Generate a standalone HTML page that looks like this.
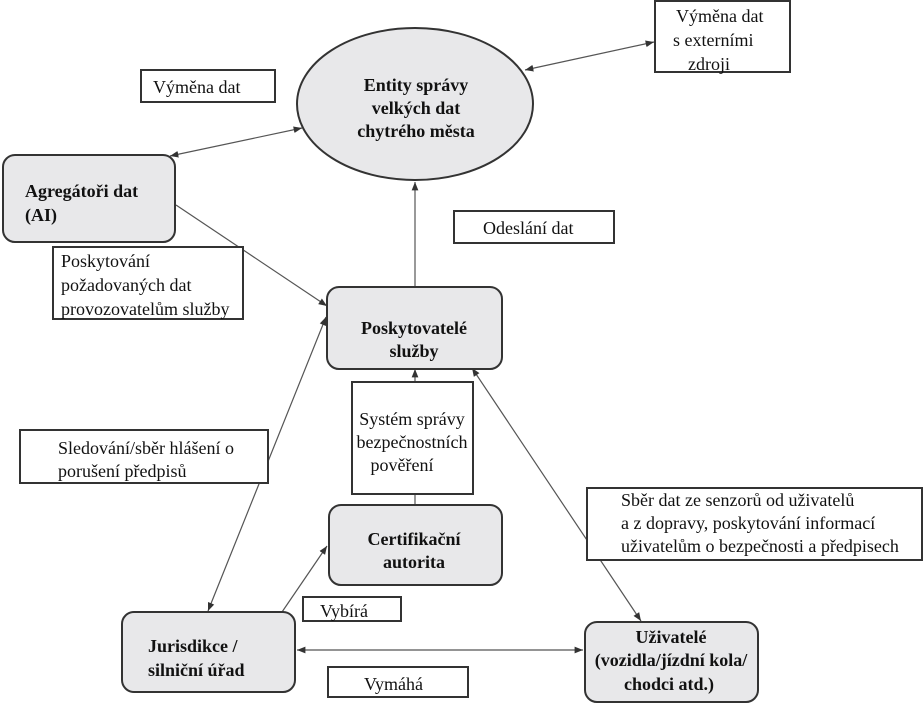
<!DOCTYPE html>
<html><head><meta charset="utf-8"><style>
html,body{margin:0;padding:0;background:#fff;}
svg{display:block;}
text{font-family:"Liberation Serif",serif;font-size:18px;fill:#111;}
.b{font-weight:bold;font-size:18px;}
</style></head><body>
<svg width="923" height="705" viewBox="0 0 923 705">
<defs>
<marker id="a" viewBox="0 0 10 10" refX="10" refY="5" markerWidth="7" markerHeight="7" orient="auto-start-reverse"><path d="M0,1 L10,5 L0,9 z" fill="#333"/></marker>
</defs>
<g stroke="#555" stroke-width="1.2" fill="none">
<line x1="525" y1="70" x2="654" y2="42" marker-start="url(#a)" marker-end="url(#a)"/>
<line x1="302" y1="128" x2="170" y2="156" marker-start="url(#a)" marker-end="url(#a)"/>
<line x1="176" y1="205" x2="327" y2="306" marker-end="url(#a)"/>
<line x1="415" y1="287" x2="415" y2="182" marker-end="url(#a)"/>
<line x1="415" y1="505" x2="415" y2="369" marker-end="url(#a)"/>
<line x1="208" y1="611" x2="326" y2="317" marker-start="url(#a)" marker-end="url(#a)"/>
<line x1="282" y1="612" x2="327" y2="546" marker-end="url(#a)"/>
<line x1="641" y1="621" x2="472" y2="368" marker-start="url(#a)" marker-end="url(#a)"/>
<line x1="297" y1="650" x2="583" y2="650" marker-start="url(#a)" marker-end="url(#a)"/>
</g>
<g stroke="#333" stroke-width="2" fill="#e8e8ea">
<ellipse cx="415" cy="104" rx="118" ry="76"/>
<rect x="3" y="155" width="172" height="87" rx="12"/>
<rect x="327" y="287" width="175" height="82" rx="12"/>
<rect x="329" y="505" width="173" height="80" rx="12"/>
<rect x="122" y="612" width="173" height="80" rx="12"/>
<rect x="585" y="622" width="173" height="80" rx="12"/>
</g>
<g stroke="#333" stroke-width="2" fill="#fff">
<rect x="655" y="1" width="135" height="71"/>
<rect x="141" y="70" width="134" height="32"/>
<rect x="53" y="247" width="190" height="72"/>
<rect x="454" y="211" width="160" height="32"/>
<rect x="352" y="382" width="121" height="112"/>
<rect x="20" y="430" width="248" height="53"/>
<rect x="587" y="488" width="335" height="72"/>
<rect x="303" y="597" width="98" height="24"/>
<rect x="328" y="667" width="140" height="30"/>
</g>
<g text-anchor="middle">
<text class="b" x="416" y="91">Entity správy</text>
<text class="b" x="416" y="114">velkých dat</text>
<text class="b" x="416" y="137">chytrého města</text>
<text class="b" x="414" y="334">Poskytovatelé</text>
<text class="b" x="414" y="357">služby</text>
<text class="b" x="414" y="545">Certifikační</text>
<text class="b" x="414" y="568">autorita</text>
<text class="b" x="671" y="643">Uživatelé</text>
<text class="b" x="671" y="666">(vozidla/jízdní kola/</text>
<text class="b" x="669" y="690">chodci atd.)</text>
<text x="412" y="425">Systém správy</text>
<text x="412" y="448">bezpečnostních</text>
<text x="402" y="471">pověření</text>
</g>
<text class="b" x="25" y="197">Agregátoři dat</text>
<text class="b" x="25" y="221">(AI)</text>
<text class="b" x="148" y="652">Jurisdikce /</text>
<text class="b" x="148" y="676">silniční úřad</text>
<text x="676" y="22">Výměna dat</text>
<text x="673" y="46">s externími</text>
<text x="688" y="70">zdroji</text>
<text x="153" y="93">Výměna dat</text>
<text x="483" y="234">Odeslání dat</text>
<text x="61" y="267">Poskytování</text>
<text x="61" y="291">požadovaných dat</text>
<text x="61" y="315">provozovatelům služby</text>
<text x="58" y="454">Sledování/sběr hlášení o</text>
<text x="58" y="477">porušení předpisů</text>
<text x="621" y="506">Sběr dat ze senzorů od uživatelů</text>
<text x="621" y="529">a z dopravy, poskytování informací</text>
<text x="621" y="552">uživatelům o bezpečnosti a předpisech</text>
<text x="320" y="617">Vybírá</text>
<text x="364" y="690">Vymáhá</text>
</svg>
</body></html>
